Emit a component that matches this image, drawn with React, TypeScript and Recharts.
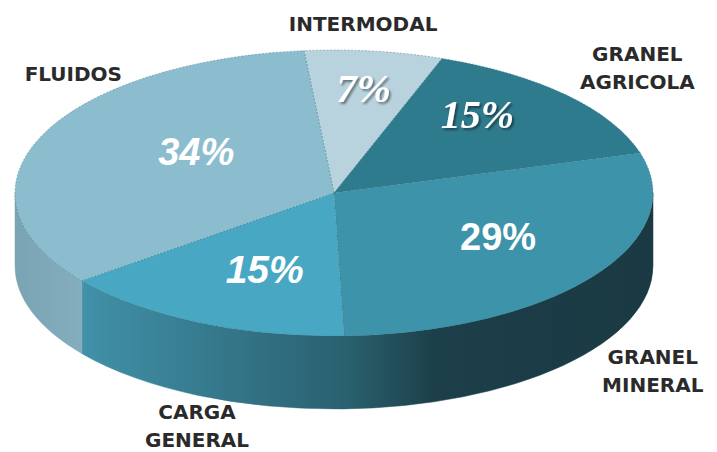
import React from 'react';
import { PieChart, Pie, Cell } from 'recharts';

// ---- data ----
const CATEGORIES = ['INTERMODAL', 'GRANEL AGRICOLA', 'GRANEL MINERAL', 'CARGA GENERAL', 'FLUIDOS'];
const SHARES = [7, 15, 29, 15, 34];
const LABEL_LINES = [['INTERMODAL'], ['GRANEL', 'AGRICOLA'], ['GRANEL', 'MINERAL'], ['CARGA', 'GENERAL'], ['FLUIDOS']];

// ---- styles / layout ----
const TOP_COLORS = ['#b8d3de', '#2f7b8e', '#3d93a9', '#48a8c3', '#8cbdce'];
const SIDE_GRADIENTS: [number, string][][] = [
  [[0, '#9fbfcb'], [1, '#9fbfcb']],
  [[0, '#276676'], [1, '#276676']],
  [[0, '#29626f'], [0.3, '#1c3f49'], [1, '#1a3943']],
  [[0, '#4191a8'], [1, '#2a6170']],
  [[0, '#7aa3b3'], [1, '#84aebd']],
];
const PCT_FONT = [
  { family: '"Liberation Serif", serif', size: 41, italic: true, shadow: true },
  { family: '"Liberation Serif", serif', size: 40, italic: true, shadow: true },
  { family: '"Liberation Sans", Arial, sans-serif', size: 38, italic: false, shadow: false },
  { family: '"Liberation Sans", Arial, sans-serif', size: 39, italic: true, shadow: false },
  { family: '"Liberation Sans", Arial, sans-serif', size: 38, italic: true, shadow: false },
];
// [radius factor, angle shift from midAngle]
const PCT_LAYOUT = [[0.74, 0], [0.71, 7.5], [0.6, 5], [0.58, 3.2], [0.52, -10.4]];
const NAME_LAYOUT = [[1.19, 2.8], [1.296, -0.4], [1.24, -0.3], [1.198, 4.2], [1.17, -22.3]];

const W = 717;
const H = 452;
const CX = 334;
const CY = 193;
const RX = 319;
const TILT = 143 / 319;
const DEPTH = 73;
const START = 95.4;
const RAD = Math.PI / 180;

const data = CATEGORIES.map((name, idx) => ({ name, value: SHARES[idx], idx }));

const pt = (cx: number, cy: number, rx: number, ry: number, a: number) => [
  cx + rx * Math.cos(a * RAD),
  cy - ry * Math.sin(a * RAD),
];

function TopSector(props: any) {
  const { cx, cy, outerRadius, startAngle, endAngle, fill } = props;
  const rx = outerRadius;
  const ry = outerRadius * TILT;
  const [x1, y1] = pt(cx, cy, rx, ry, startAngle);
  const [x2, y2] = pt(cx, cy, rx, ry, endAngle);
  const delta = endAngle - startAngle;
  const large = Math.abs(delta) > 180 ? 1 : 0;
  const sweep = delta < 0 ? 1 : 0;
  return (
    <path
      d={`M${cx},${cy}L${x1},${y1}A${rx},${ry} 0 ${large} ${sweep} ${x2},${y2}Z`}
      fill={fill}
      stroke="#2c6d80"
      strokeOpacity={0.5}
      strokeWidth={0.8}
      strokeDasharray="2 1.5"
    />
  );
}

function SideSector(props: any) {
  const { cx, cy, outerRadius, startAngle, endAngle } = props;
  const idx = props.payload?.idx ?? props.idx ?? 0;
  const rx = outerRadius;
  const ry = outerRadius * TILT;
  const lo = Math.min(startAngle, endAngle);
  const hi = Math.max(startAngle, endAngle);
  const pieces: number[][] = [];
  for (let k = -2; k <= 2; k++) {
    const a = Math.max(lo, -180 + 360 * k);
    const b = Math.min(hi, 360 * k);
    if (b > a + 0.01) pieces.push([a, b]);
  }
  const gid = `side-grad-${idx}`;
  return (
    <g>
      <defs>
        <linearGradient id={gid} x1="0" y1="0" x2="1" y2="0">
          {SIDE_GRADIENTS[idx].map(([o, c], i) => (
            <stop key={i} offset={o} stopColor={c} />
          ))}
        </linearGradient>
      </defs>
      {pieces.map(([a, b], i) => {
        const [x1, y1] = pt(cx, cy, rx, ry, a);
        const [x2, y2] = pt(cx, cy, rx, ry, b);
        const d = `M${x1},${y1}A${rx},${ry} 0 0 0 ${x2},${y2}L${x2},${y2 + DEPTH}A${rx},${ry} 0 0 1 ${x1},${y1 + DEPTH}Z`;
        return <path key={i} d={d} fill={`url(#${gid})`} stroke={`url(#${gid})`} strokeWidth={0.5} />;
      })}
    </g>
  );
}

function SliceLabel(props: any) {
  const { cx, cy, midAngle, outerRadius, value } = props;
  const idx = props.payload?.idx ?? props.index ?? 0;
  const rx = outerRadius;
  const ry = outerRadius * TILT;

  const [pr, ps] = PCT_LAYOUT[idx];
  const [px, py] = pt(cx, cy, rx * pr, ry * pr, midAngle + ps);
  const f = PCT_FONT[idx];

  const [nr, ns] = NAME_LAYOUT[idx];
  const na = midAngle + ns;
  let [nx, ny] = pt(cx, cy, rx * nr, ry * nr, na);
  if (Math.sin(na * RAD) < 0) ny += DEPTH;
  const lines = LABEL_LINES[idx];
  const lh = 28;
  const firstBase = ny - ((lines.length - 1) * lh) / 2 + 7.5;

  return (
    <g>
      {idx === 0 && (
        <defs>
          <filter id="pct-shadow" x="-20%" y="-20%" width="140%" height="140%">
            <feDropShadow dx="2" dy="2" stdDeviation="1.2" floodColor="#000" floodOpacity="0.45" />
          </filter>
        </defs>
      )}
      <text
        x={px}
        y={py + f.size * 0.34}
        textAnchor="middle"
        fill="#ffffff"
        fontFamily={f.family}
        fontSize={f.size}
        fontWeight="bold"
        fontStyle={f.italic ? 'italic' : 'normal'}
        filter={f.shadow ? 'url(#pct-shadow)' : undefined}
      >
        {`${value}%`}
      </text>
      <text
        textAnchor="middle"
        fill="#2a2a2a"
        fontFamily='"DejaVu Sans", Verdana, sans-serif'
        fontSize={20}
        fontWeight="bold"
      >
        {lines.map((ln, i) => (
          <tspan key={i} x={nx} y={firstBase + i * lh}>
            {ln}
          </tspan>
        ))}
      </text>
    </g>
  );
}

export default function App() {
  return (
    <div style={{ position: 'absolute', left: 0, top: 0, width: W, height: H, background: '#ffffff' }}>
      <PieChart width={W} height={H} margin={{ top: 0, right: 0, bottom: 0, left: 0 }}>
        <Pie
          data={data}
          dataKey="value"
          nameKey="name"
          cx={CX}
          cy={CY}
          outerRadius={RX}
          startAngle={START}
          endAngle={START - 360}
          isAnimationActive={false}
          shape={SideSector}
          stroke="none"
        >
          {data.map((d, i) => (
            <Cell key={i} fill={TOP_COLORS[i]} />
          ))}
        </Pie>
        <Pie
          data={data}
          dataKey="value"
          nameKey="name"
          cx={CX}
          cy={CY}
          outerRadius={RX}
          startAngle={START}
          endAngle={START - 360}
          isAnimationActive={false}
          shape={TopSector}
          label={SliceLabel}
          labelLine={false}
          stroke="none"
        >
          {data.map((d, i) => (
            <Cell key={i} fill={TOP_COLORS[i]} />
          ))}
        </Pie>
      </PieChart>
    </div>
  );
}
